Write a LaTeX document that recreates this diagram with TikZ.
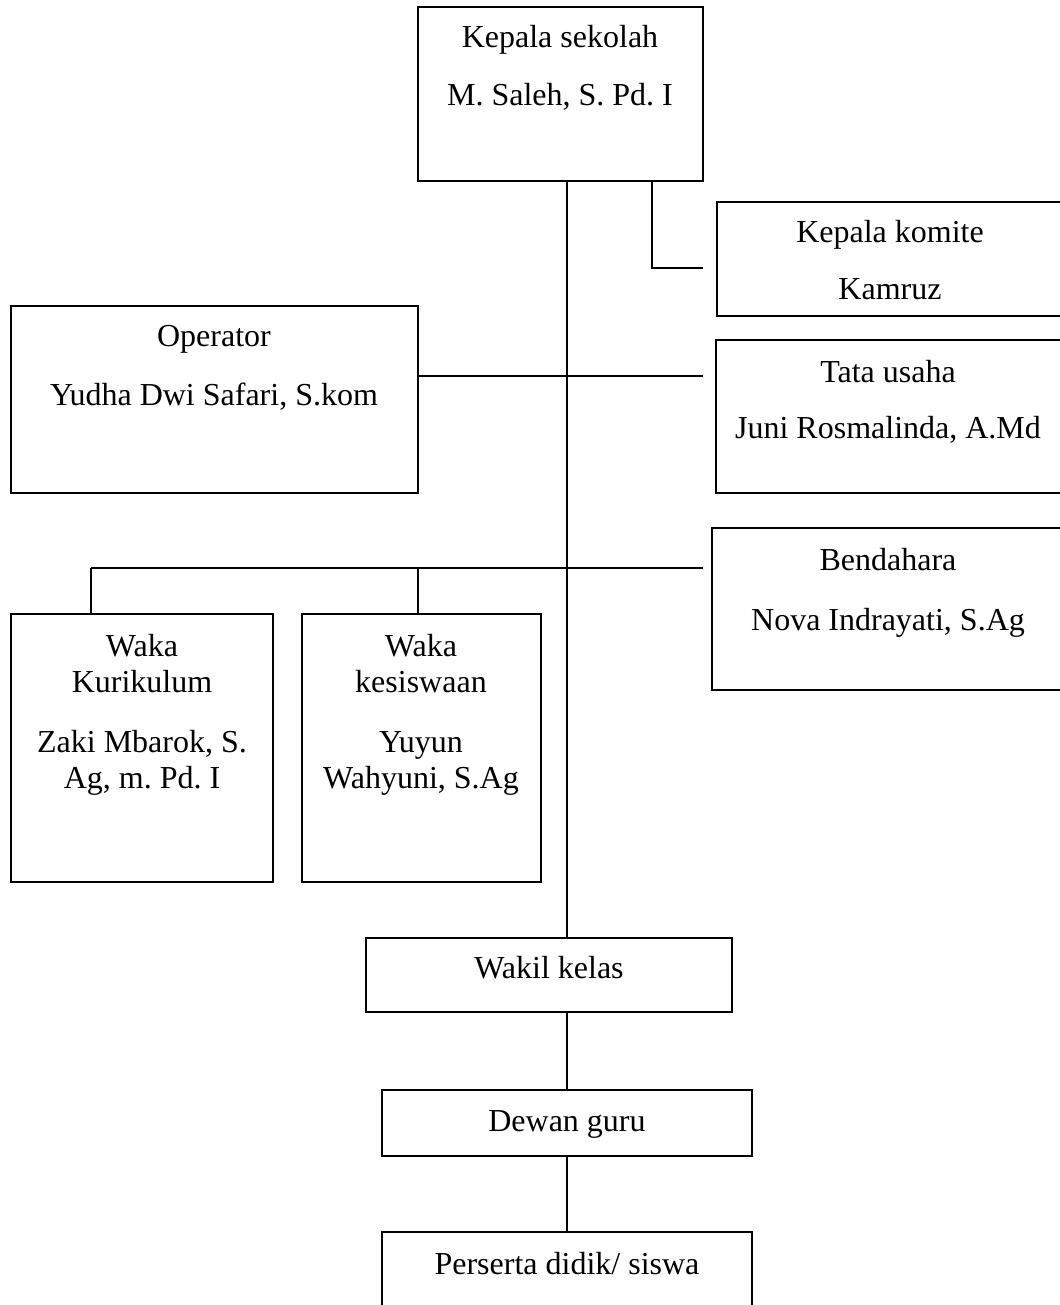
\documentclass[tikz,border=0pt]{standalone}
\usepackage{fontspec}
\setmainfont{Liberation Serif}
\frenchspacing
\tikzset{
  box/.style={draw, line width=1.8pt, rectangle, inner sep=0pt, outer sep=0pt, anchor=north west},
  txt/.style={anchor=base, inner sep=0pt, font=\fontsize{32}{38}\selectfont\frenchspacing},
  conn/.style={line width=1.8pt},
}
\begin{document}
\begin{tikzpicture}[x=1pt, y=-1pt]
\useasboundingbox (0,0) rectangle (1059,1305);
% boxes
\node[box, minimum width=285pt, minimum height=174pt] (ks) at (418,7) {};
\node[box, minimum width=352pt, minimum height=114pt] (km) at (717,202) {};
\node[box, minimum width=407pt, minimum height=187pt] (op) at (11,306) {};
\node[box, minimum width=354pt, minimum height=153pt] (tu) at (716,340) {};
\node[box, minimum width=356pt, minimum height=162pt] (bd) at (712,528) {};
\node[box, minimum width=262pt, minimum height=268pt] (wk1) at (11,614) {};
\node[box, minimum width=239pt, minimum height=268pt] (wk2) at (302,614) {};
\node[box, minimum width=366pt, minimum height=74pt] (wkl) at (366,938) {};
\node[box, minimum width=370pt, minimum height=66pt] (dg) at (382,1090) {};
\node[box, minimum width=370pt, minimum height=100pt] (ps) at (382,1232) {};
% texts
\node[txt] (ks1) at (560,48) {Kepala sekolah};
\node[txt] (ks2) at (560,106) {M. Saleh, S. Pd. I};
\node[txt] (km1) at (890,243) {Kepala komite};
\node[txt] (km2) at (890,300) {Kamruz};
\node[txt] (op1) at (214,346) {Operator};
\node[txt] (op2) at (214,405) {Yudha Dwi Safari, S.kom};
\node[txt] (tu1) at (888,382) {Tata usaha};
\node[txt] (tu2) at (888,438) {Juni Rosmalinda, A.Md};
\node[txt] (bd1) at (888,570) {Bendahara};
\node[txt] (bd2) at (888,630) {Nova Indrayati, S.Ag};
\node[txt] (wa1) at (142,656) {Waka};
\node[txt] (wa2) at (142,692) {Kurikulum};
\node[txt] (wa3) at (142,752) {Zaki Mbarok, S.};
\node[txt] (wa4) at (142,788) {Ag, m. Pd. I};
\node[txt] (wb1) at (421,656) {Waka};
\node[txt] (wb2) at (421,692) {kesiswaan};
\node[txt] (wb3) at (421,752) {Yuyun};
\node[txt] (wb4) at (421,788) {Wahyuni, S.Ag};
\node[txt] (wkt) at (549,978) {Wakil kelas};
\node[txt] (dgt) at (567,1131) {Dewan guru};
\node[txt] (pst) at (567,1274) {Perserta didik/ siswa};
% connector coordinates
\coordinate (mx) at (567,0);
\coordinate (kx) at (652,0);
\coordinate (kend) at (703,268);
\coordinate (tend) at (703,376);
\coordinate (bl) at (91,568);
\coordinate (bm) at (418,568);
\coordinate (br) at (703,568);
% connectors
\draw[conn] (ks.south -| mx) -- (wkl.north -| mx);
\draw[conn] (ks.south -| kx) |- (kend);
\draw[conn] (op.east |- tend) -- (tend);
\draw[conn] (bl) -- (br);
\draw[conn] (bl) -- (wk1.north -| bl);
\draw[conn] (bm) -- (wk2.north -| bm);
\draw[conn] (wkl.south -| mx) -- (dg.north -| mx);
\draw[conn] (dg.south -| mx) -- (ps.north -| mx);
\end{tikzpicture}
\end{document}
